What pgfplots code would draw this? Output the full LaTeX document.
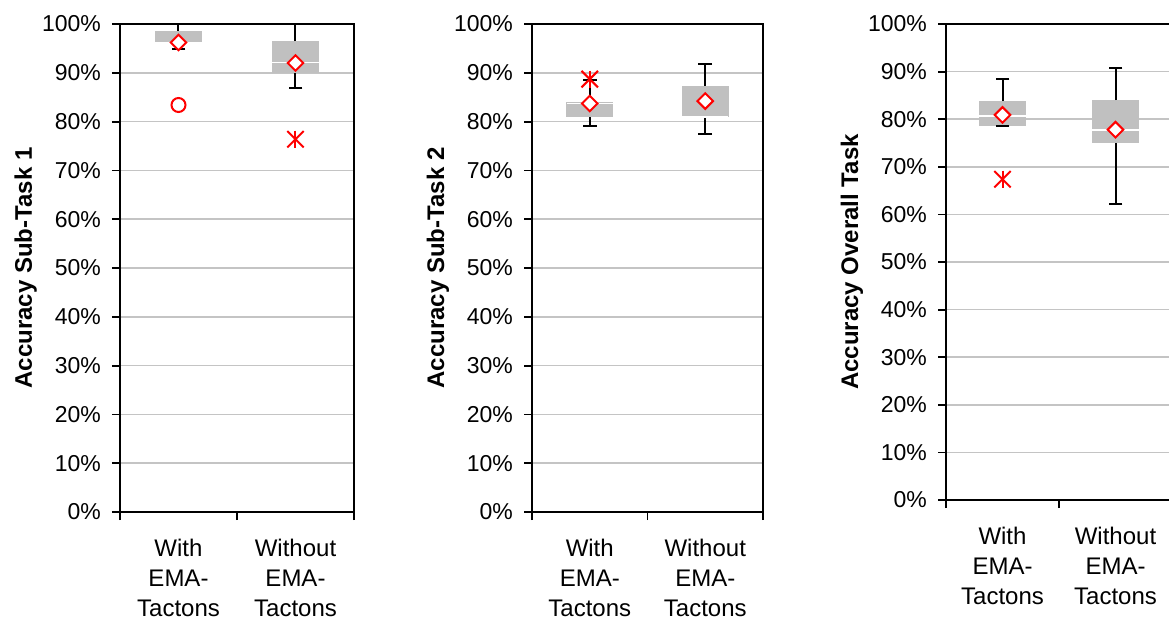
\documentclass[border=0pt]{standalone}
\usepackage{fontspec}
\setmainfont{Liberation Sans}
\usepackage{pgfplots}
\pgfplotsset{compat=1.18}
\definecolor{boxgray}{RGB}{192,192,192}
\definecolor{gridgray}{RGB}{196,196,196}
\pgfplotsset{
  panel/.style={
    scale only axis,
    xmin=0.5, xmax=2.5, ymin=0, ymax=100,
    ytick={0,10,...,100},
    yticklabel={\pgfmathprintnumber{\tick}\%},
    /pgf/number format/assume math mode=true,
    ymajorgrids,
    grid style={draw=gridgray, line width=0.75pt},
    xtick={0.5,1.5,2.5}, xticklabels={,,},
    extra x ticks={1,2},
    extra x tick labels={{With\\EMA-\\Tactons},{Without\\EMA-\\Tactons}},
    extra x tick style={major tick length=0pt, grid=none},
    xticklabel style={align=center, font=\fontsize{12}{15}\selectfont, yshift=-10pt},
    yticklabel style={font=\fontsize{11.5}{13}\selectfont, xshift=-2pt},
    tick align=outside, major tick length=4pt,
    xtick pos=bottom, ytick pos=left,
    tick style={black, line width=0.9pt},
    axis line style={black, line width=0.9pt},
    every axis y label/.style={at={([xshift=-44pt]axis description cs:0,0.5)}, rotate=90, anchor=base, font=\fontsize{12}{14}\selectfont\bfseries},
  },
  meanmark/.style={only marks, mark=square*, mark size=2.75pt, mark options={rotate=45, draw=red, fill=white, line width=1pt}},
  starx/.style={only marks, mark=x, mark size=5.8pt, mark options={draw=red, line width=1pt}},
  starv/.style={only marks, mark=|, mark size=4.3pt, mark options={draw=red, line width=1pt}},
  circmark/.style={only marks, mark=o, mark size=3.5pt, mark options={draw=red, line width=1pt}},
}
% #1 position, #2 lower whisker, #3 lower quartile, #4 median, #5 upper quartile, #6 upper whisker
\newcommand{\boxwhisk}[6]{%
  \addplot[boxgray, line width=23.3pt] coordinates {(#1,#3) (#1,#5)};
  \addplot[only marks, mark=-, mark size=11.6pt, mark options={draw=white, line width=0.9pt}] coordinates {(#1,#4)};
  \addplot[black, line width=1pt] coordinates {(#1,#5) (#1,#6)};
  \addplot[black, line width=1pt] coordinates {(#1,#2) (#1,#3)};
  \addplot[only marks, mark=-, mark size=3.4pt, mark options={draw=black, line width=1pt}] coordinates {(#1,#2) (#1,#6)};
}
\begin{document}
\begin{tikzpicture}
\useasboundingbox (0,0) rectangle (584.5pt,311.5pt);
% Panel 1
\begin{axis}[panel, at={(60pt,55.5pt)}, anchor=south west, width=117pt, height=244pt, ylabel={Accuracy Sub-Task 1}]
\boxwhisk{1}{94.9}{96.2}{96.2}{98.6}{100}
\boxwhisk{2}{86.8}{89.9}{92.1}{96.5}{100}
\addplot[circmark] coordinates {(1,83.4)};
\addplot[starx] coordinates {(2,76.4)};
\addplot[starv] coordinates {(2,76.4)};
\addplot[meanmark] coordinates {(1,96.2) (2,92.0)};
\end{axis}
% Panel 2
\begin{axis}[panel, at={(266pt,55.5pt)}, anchor=south west, width=115.5pt, height=244pt, ylabel={Accuracy Sub-Task 2}]
\boxwhisk{1}{79.0}{81.0}{83.7}{84.0}{88.5}
\boxwhisk{2}{77.5}{81.0}{81.0}{87.3}{91.9}
\addplot[starx] coordinates {(1,88.7)};
\addplot[starv] coordinates {(1,88.7)};
\addplot[meanmark] coordinates {(1,83.7) (2,84.2)};
\end{axis}
% Panel 3
\begin{axis}[panel, at={(473pt,61.5pt)}, anchor=south west, width=113pt, height=238pt, ylabel={Accuracy Overall Task}]
\boxwhisk{1}{78.6}{78.6}{80.7}{83.8}{88.4}
\boxwhisk{2}{62.2}{75.1}{77.7}{84.0}{90.8}
\addplot[starx] coordinates {(1,67.4)};
\addplot[starv] coordinates {(1,67.4)};
\addplot[meanmark] coordinates {(1,80.9) (2,77.8)};
\end{axis}
\end{tikzpicture}
\end{document}
